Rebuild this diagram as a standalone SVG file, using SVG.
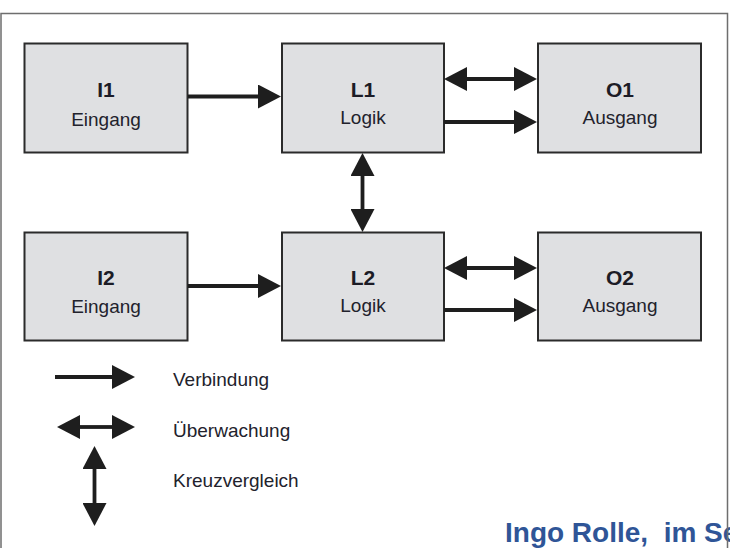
<svg xmlns="http://www.w3.org/2000/svg" width="730" height="548" viewBox="0 0 730 548">
  <defs>
    <style>
      .box { fill: #dfe0e2; stroke: #2b2b2b; stroke-width: 2; }
      .title { font-family: "Liberation Sans", Arial, sans-serif; font-weight: bold; font-size: 21px; fill: #1c1c26; text-anchor: middle; }
      .sub { font-family: "Liberation Sans", Arial, sans-serif; font-size: 19px; fill: #22222c; text-anchor: middle; }
      .legend { font-family: "Liberation Sans", Arial, sans-serif; font-size: 19px; fill: #22222c; }
      .wire { stroke: #1e1e1e; stroke-width: 3.8; fill: none; }
      .frame { stroke: #6e6e6e; stroke-width: 1.5; fill: none; }
      .credit { font-family: "Liberation Sans", Arial, sans-serif; font-weight: bold; font-size: 28px; fill: #2f5597; }
    </style>
    <!-- arrowhead: base sits on the line end, tip points outward -->
    <marker id="head" markerUnits="userSpaceOnUse" markerWidth="24" markerHeight="24" refX="0" refY="12" orient="auto-start-reverse" viewBox="0 0 24 24">
      <path d="M0,0 L23,12 L0,24 Z" fill="#1e1e1e"/>
    </marker>
  </defs>

  <rect width="730" height="548" fill="#ffffff"/>

  <!-- footer credit, partly covered by the frame edge -->
  <text class="credit" x="505" y="542" xml:space="preserve">Ingo Rolle,  im Se</text>

  <!-- outer frame -->
  <path class="frame" d="M1,548 L1,13.5 L727.5,13.5 L727.5,548"/>

  <!-- row 1 -->
  <g id="I1">
    <rect class="box" x="24.5" y="43.5" width="163" height="109"/>
    <text class="title" x="106" y="97">I1</text>
    <text class="sub" x="106" y="125.5">Eingang</text>
  </g>
  <g id="L1">
    <rect class="box" x="282" y="43.5" width="162" height="109"/>
    <text class="title" x="363" y="97">L1</text>
    <text class="sub" x="363" y="123.5">Logik</text>
  </g>
  <g id="O1">
    <rect class="box" x="538" y="43.5" width="163" height="109"/>
    <text class="title" x="620" y="97">O1</text>
    <text class="sub" x="620" y="123.5">Ausgang</text>
  </g>

  <!-- row 2 -->
  <g id="I2">
    <rect class="box" x="24.5" y="232.5" width="163" height="108"/>
    <text class="title" x="106" y="285">I2</text>
    <text class="sub" x="106" y="313">Eingang</text>
  </g>
  <g id="L2">
    <rect class="box" x="282" y="232.5" width="162" height="108"/>
    <text class="title" x="363" y="285">L2</text>
    <text class="sub" x="363" y="311.5">Logik</text>
  </g>
  <g id="O2">
    <rect class="box" x="538" y="232.5" width="163" height="108"/>
    <text class="title" x="620" y="285">O2</text>
    <text class="sub" x="620" y="311.5">Ausgang</text>
  </g>

  <!-- connectors -->
  <g id="connectors">
    <path class="wire" d="M188,96.5 L258,96.5" marker-end="url(#head)"/>
    <path class="wire" d="M467,79 L514,79" marker-start="url(#head)" marker-end="url(#head)"/>
    <path class="wire" d="M444,122 L514,122" marker-end="url(#head)"/>
    <path class="wire" d="M362.5,176 L362.5,209" marker-start="url(#head)" marker-end="url(#head)"/>
    <path class="wire" d="M188,286 L258,286" marker-end="url(#head)"/>
    <path class="wire" d="M467,268 L514,268" marker-start="url(#head)" marker-end="url(#head)"/>
    <path class="wire" d="M444,310 L514,310" marker-end="url(#head)"/>
  </g>

  <!-- legend -->
  <g id="legend">
    <path class="wire" d="M55,377 L112,377" marker-end="url(#head)"/>
    <text class="legend" x="173" y="386">Verbindung</text>
    <path class="wire" d="M80,427 L112,427" marker-start="url(#head)" marker-end="url(#head)"/>
    <text class="legend" x="173" y="437">Überwachung</text>
    <path class="wire" d="M94.5,469 L94.5,503" marker-start="url(#head)" marker-end="url(#head)"/>
    <text class="legend" x="173" y="487">Kreuzvergleich</text>
  </g>
</svg>
